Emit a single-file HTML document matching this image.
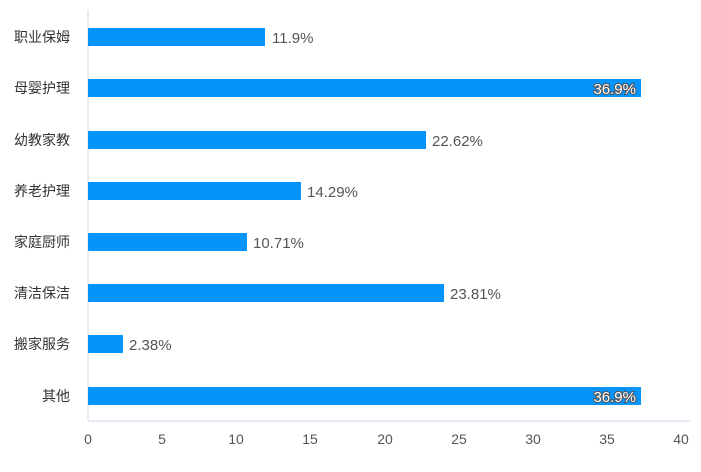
<!DOCTYPE html>
<html><head><meta charset="utf-8"><style>
body{margin:0;background:#fff;width:701px;height:467px;overflow:hidden}
text{font-family:"Liberation Sans","Noto Sans CJK SC",sans-serif}
</style></head><body>
<svg width="701" height="467" xmlns="http://www.w3.org/2000/svg">
<line x1="88" y1="10" x2="88" y2="421" stroke="#dfe6f0" stroke-width="1.5"/>
<line x1="88" y1="421" x2="690" y2="421" stroke="#dfe6f0" stroke-width="1.5"/>
<g font-size="14" fill="#555" text-anchor="middle" dominant-baseline="central">
<text x="88" y="439">0</text><text x="162" y="439">5</text><text x="236" y="439">10</text><text x="310" y="439">15</text><text x="385" y="439">20</text><text x="459" y="439">25</text><text x="533" y="439">30</text><text x="607" y="439">35</text><text x="681" y="439">40</text>
</g>
<g fill="#0494fc">
<rect x="88" y="28" width="177" height="18"/>
<rect x="88" y="79" width="553" height="18"/>
<rect x="88" y="131" width="338" height="18"/>
<rect x="88" y="182" width="213" height="18"/>
<rect x="88" y="233" width="159" height="18"/>
<rect x="88" y="284" width="356" height="18"/>
<rect x="88" y="335" width="35" height="18"/>
<rect x="88" y="387" width="553" height="18"/>
</g>
<g font-size="14" fill="#333" text-anchor="end">
<text x="70" y="42">职业保姆</text><text x="70" y="93">母婴护理</text><text x="70" y="145">幼教家教</text><text x="70" y="196">养老护理</text><text x="70" y="247">家庭厨师</text><text x="70" y="298">清洁保洁</text><text x="70" y="349">搬家服务</text><text x="70" y="401">其他</text>
</g>
<g font-size="15" fill="#555">
<text x="272" y="43">11.9%</text><text x="432" y="146">22.62%</text><text x="307" y="197">14.29%</text><text x="253" y="248">10.71%</text><text x="450" y="299">23.81%</text><text x="129" y="350">2.38%</text>
</g>
<g font-size="15" fill="#fff" stroke="#555" stroke-width="2" paint-order="stroke" text-anchor="end">
<text x="636" y="94">36.9%</text><text x="636" y="402">36.9%</text>
</g>
</svg>
</body></html>
